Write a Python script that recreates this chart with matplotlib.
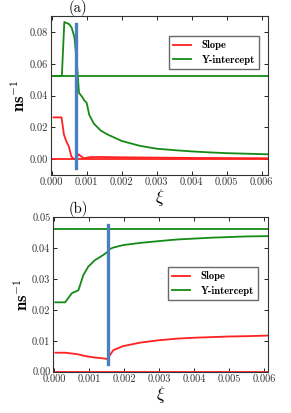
import numpy as np
import matplotlib
matplotlib.use('Agg')
import matplotlib.pyplot as plt

plt.rcParams['font.family'] = 'cmr10'
plt.rcParams['mathtext.fontset'] = 'cm'
plt.rcParams['axes.formatter.use_mathtext'] = True

# panel (a)
xi_a_slope = [0.00005, 0.00028, 0.00035, 0.00042, 0.00049, 0.00056, 0.00064, 0.0007,
              0.00077, 0.00085, 0.00092, 0.00109, 0.0013, 0.002, 0.003, 0.004, 0.005, 0.00617]
slope_a = [0.0263, 0.0263, 0.0154, 0.0111, 0.008, 0.0017, 0.0, 0.0008,
           0.0031, 0.0016, 0.0006, 0.0013, 0.0014, 0.0012, 0.001, 0.0008, 0.0007, 0.0006]
xi_a_icpt = [0.00005, 0.00029, 0.00036, 0.0005, 0.00057, 0.00065, 0.00072, 0.00078,
             0.00087, 0.00093, 0.001, 0.00107, 0.0012, 0.0014, 0.0016, 0.002, 0.0025,
             0.003, 0.0035, 0.004, 0.0045, 0.005, 0.0055, 0.00617]
icpt_a = [0.0524, 0.0524, 0.0863, 0.0849, 0.0828, 0.0765, 0.06, 0.0417,
          0.0392, 0.037, 0.0354, 0.028, 0.0225, 0.018, 0.0155, 0.0115, 0.0085,
          0.0066, 0.0057, 0.0049, 0.0043, 0.0038, 0.0035, 0.0031]
ref_a = [0.0, 0.0524]
mark_a = 0.000686

# panel (b)
xi_b = [0.00003, 0.00031, 0.0005, 0.00069, 0.00083, 0.00097, 0.00116, 0.0014, 0.00152,
        0.00156, 0.00169, 0.00197, 0.00245, 0.003, 0.0035, 0.004, 0.0045, 0.005, 0.0055, 0.0061]
slope_b = [0.00615, 0.00615, 0.0059, 0.0056, 0.0052, 0.0049, 0.0046, 0.0043, 0.0041,
           0.0049, 0.007, 0.0083, 0.0094, 0.0102, 0.0107, 0.011, 0.0112, 0.0114, 0.0115, 0.0117]
icpt_b = [0.02246, 0.02246, 0.0254, 0.0264, 0.0313, 0.034, 0.0361, 0.0378, 0.0388,
          0.0396, 0.0402, 0.041, 0.0417, 0.0423, 0.0428, 0.0431, 0.0434, 0.0436, 0.0438, 0.0439]
ref_b = [0.0, 0.0461]
mark_b = 0.001525

red = '#ff2020'
green = '#158a15'
blue = '#4a7fc0'

fig = plt.figure(figsize=(2.91, 4.13), dpi=100)
ax1 = fig.add_axes([0.1753, 0.576, 0.7447, 0.385])
ax2 = fig.add_axes([0.183, 0.1, 0.737, 0.3739])


def panel(ax, xs_s, ys_s, xs_i, ys_i, ref, mark, vspan, xlim, ylim, yticks, leg_anchor):
    ax.plot(xs_s, ys_s, color=red, lw=1.3, label='Slope')
    ax.plot(xs_i, ys_i, color=green, lw=1.3, label='Y-intercept')
    ax.axhline(ref[0], color=red, lw=1.3)
    ax.axhline(ref[1], color=green, lw=1.3)
    ax.plot([mark, mark], vspan, color=blue, lw=2.4)
    ax.set_xlim(*xlim)
    ax.set_ylim(*ylim)
    ax.set_xticks([0.000, 0.001, 0.002, 0.003, 0.004, 0.005, 0.006])
    ax.set_xticklabels(['0.000', '0.001', '0.002', '0.003', '0.004', '0.005', '0.006'])
    ax.set_yticks(yticks)
    ax.set_yticklabels(['%.2f' % v for v in yticks])
    ax.tick_params(direction='in', top=True, right=True, labelsize=7.5,
                   length=3, width=0.6, pad=2, labelcolor='#333333')
    for s in ax.spines.values():
        s.set_linewidth(0.8)
        s.set_color('#333333')
    ax.set_xlabel(r'$\xi$', fontsize=12.5, labelpad=0)
    ax.set_ylabel(r'$\mathbf{ns}^{-1}$', fontsize=12, labelpad=1)
    leg = ax.legend(loc='upper right', bbox_to_anchor=leg_anchor, borderaxespad=0,
                    prop={'family': 'cmb10', 'size': 7.6}, fancybox=False,
                    handlelength=1.7, handletextpad=1.0, borderpad=0.4, labelspacing=0.45)
    leg.get_frame().set_edgecolor('#444444')
    leg.get_frame().set_linewidth(1.0)


panel(ax1, xi_a_slope, slope_a, xi_a_icpt, icpt_a, ref_a, mark_a, [-0.0057, 0.0849],
      (-0.00002, 0.00617), (-0.01, 0.09), [0.00, 0.02, 0.04, 0.06, 0.08], (0.96, 0.875))
panel(ax2, xi_b, slope_b, xi_b, icpt_b, ref_b, mark_b, [0.0024, 0.0475],
      (-0.00003, 0.0061), (0.0, 0.05), [0.00, 0.01, 0.02, 0.03, 0.04, 0.05], (0.956, 0.678))

fig.text(78 / 291, 1 - 8 / 413, '(a)', ha='center', va='center', fontsize=10.5)
fig.text(78 / 291, 1 - 209 / 413, '(b)', ha='center', va='center', fontsize=10.5)

fig.savefig('out.png', dpi=100)
